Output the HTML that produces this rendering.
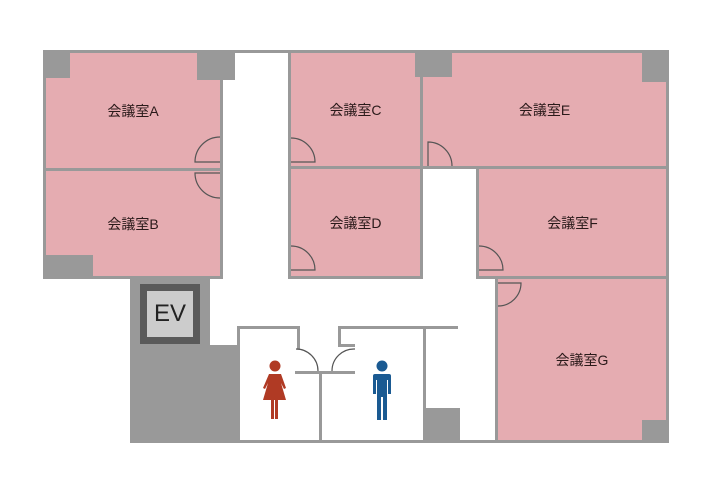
<!DOCTYPE html>
<html><head><meta charset="utf-8"><style>
body{margin:0;width:720px;height:486px;background:#fff;position:relative;overflow:hidden;font-family:"Liberation Sans","Noto Sans CJK JP",sans-serif}
.r{position:absolute;background:#e5acb1;border:3px solid #999;box-sizing:border-box;display:flex;align-items:center;justify-content:center;font-size:14px;color:#2a1a1a}
.g{position:absolute;background:#999}
.w{position:absolute;background:#fff}
</style></head><body>
<div class="r" style="left:43px;top:50px;width:180px;height:121px">会議室A</div>
<div class="r" style="left:43px;top:168px;width:180px;height:111px">会議室B</div>
<div class="r" style="left:288px;top:50px;width:135px;height:119px">会議室C</div>
<div class="r" style="left:288px;top:166px;width:135px;height:113px">会議室D</div>
<div class="r" style="left:420px;top:50px;width:249px;height:119px">会議室E</div>
<div class="r" style="left:476px;top:166px;width:193px;height:113px">会議室F</div>
<div class="r" style="left:495px;top:276px;width:174px;height:167px">会議室G</div>
<div class="g" style="left:43px;top:50px;width:27px;height:28px"></div>
<div class="g" style="left:197px;top:50px;width:38px;height:30px"></div>
<div class="g" style="left:220px;top:50px;width:68px;height:3px"></div>
<div class="g" style="left:43px;top:255px;width:50px;height:24px"></div>
<div class="g" style="left:415px;top:50px;width:37px;height:27px"></div>
<div class="g" style="left:642px;top:50px;width:27px;height:32px"></div>
<div class="g" style="left:642px;top:420px;width:27px;height:23px"></div>
<!-- EV area -->
<div class="g" style="left:130px;top:279px;width:80px;height:164px"></div>
<div class="g" style="left:130px;top:345px;width:109px;height:98px"></div>
<div style="position:absolute;left:140px;top:284px;width:60px;height:60px;background:#5a5a5a"></div>
<div style="position:absolute;left:147px;top:291px;width:46px;height:46px;background:#ccc;font-size:24px;color:#222;display:flex;align-items:center;justify-content:center;font-weight:normal">EV</div>
<!-- restrooms -->
<div class="g" style="left:237px;top:326px;width:3px;height:117px"></div>
<div class="g" style="left:237px;top:326px;width:63px;height:3px"></div>
<div class="g" style="left:297px;top:326px;width:3px;height:23px"></div>
<div class="g" style="left:295px;top:371px;width:60px;height:3px"></div>
<div class="g" style="left:319px;top:371px;width:3px;height:72px"></div>
<div class="g" style="left:338px;top:326px;width:120px;height:3px"></div>
<div class="g" style="left:338px;top:326px;width:3px;height:21px"></div>
<div class="g" style="left:338px;top:344px;width:17px;height:3px"></div>
<div class="g" style="left:423px;top:326px;width:3px;height:117px"></div>
<div class="g" style="left:423px;top:408px;width:37px;height:35px"></div>
<div class="g" style="left:130px;top:440px;width:539px;height:3px"></div>
<svg style="position:absolute;left:0;top:0" width="720" height="486">
<g fill="#e5acb1" stroke="#555" stroke-width="1.2">
<path d="M220 162 L195 162 A25 25 0 0 1 220 137"/>
<path d="M220 173 L195 173 A25 25 0 0 0 220 198"/>
<path d="M291 162 L315 162 A24 24 0 0 0 291 138"/>
<path d="M291 270 L315 270 A24 24 0 0 0 291 246"/>
<path d="M428 166 L428 142 A24 24 0 0 1 452 166"/>
<path d="M479 270 L503 270 A24 24 0 0 0 479 246"/>
<path d="M498 283 L521 283 A23 23 0 0 1 498 306"/>
</g>
<g fill="none" stroke="#555" stroke-width="1.2">
<path d="M296 349 A22 22 0 0 1 318 371"/>
<path d="M332 371 A22 22 0 0 1 355 349"/>
</g>
<g fill="#b03a24">
<circle cx="275" cy="366" r="5.5"/>
<path d="M269 374 h12 l5 14 l-2 1 l-3 -6 l5 17 h-8 v19 h-3 v-19 h-1 v19 h-3 v-19 h-8 l5 -17 l-3 6 l-2 -1z"/>
</g>
<g fill="#1a5a92">
<circle cx="382" cy="366" r="5.5"/>
<path d="M375 374 h14 a2 2 0 0 1 2 2 v18 h-3 v-14 h-1 v40 h-4 v-23 h-2 v23 h-4 v-40 h-1 v14 h-3 v-18 a2 2 0 0 1 2 -2z"/>
</g>
</svg>
</body></html>
